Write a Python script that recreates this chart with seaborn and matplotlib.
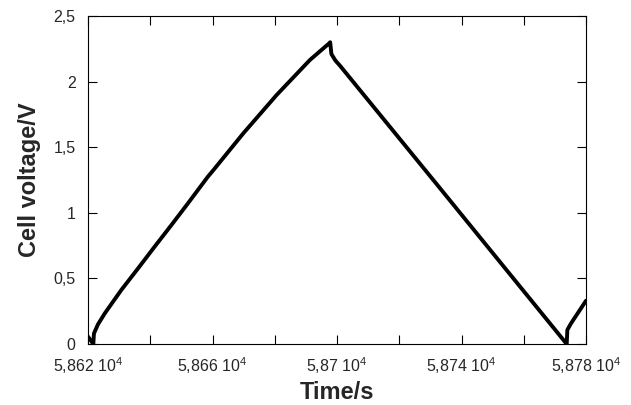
import matplotlib
matplotlib.use("Agg")
import matplotlib.pyplot as plt
from matplotlib.ticker import MultipleLocator
import pandas as pd
import seaborn as sns

# time (s) and cell voltage (V)
TIME = [58620.0, 58621.7, 58621.9, 58623.2, 58625.4, 58630.7, 58636.1,
        58641.4, 58646.8, 58652.1, 58658.5, 58660.3, 58669.9, 58680.6,
        58691.3, 58697.4, 58697.8, 58698.2, 58699.5, 58701.0, 58733.1,
        58773.8, 58774.0, 58775.0, 58775.9, 58780.0]
VOLT = [0.056, 0.0, 0.08, 0.15, 0.234, 0.412, 0.577,
        0.742, 0.907, 1.072, 1.275, 1.326, 1.606, 1.898,
        2.165, 2.29, 2.30, 2.21, 2.16, 2.12, 1.187,
        0.0, 0.107, 0.15, 0.183, 0.33]

X_TICKS = [58620, 58660, 58700, 58740, 58780]
X_LABELS = ["5,862", "5,866", "5,87", "5,874", "5,878"]
Y_TICKS = [0, 0.5, 1, 1.5, 2, 2.5]
Y_LABELS = ["0", "0,5", "1", "1,5", "2", "2,5"]

sns.set_style("ticks")
plt.rcParams["font.family"] = ["Liberation Sans", "DejaVu Sans"]
plt.rcParams["mathtext.fontset"] = "custom"
plt.rcParams["mathtext.rm"] = "Liberation Sans"

df = pd.DataFrame({"t": TIME, "v": VOLT})

fig = plt.figure(figsize=(6.31, 4.05), dpi=100)
ax = fig.add_axes([0.1395, 0.1506, 0.7892, 0.8099])
sns.lineplot(data=df, x="t", y="v", sort=False, estimator=None,
             color="black", lw=2.8, ax=ax)

ax.set_xlim(58620, 58780)
ax.set_ylim(0, 2.5)
ax.set_xticks(X_TICKS)
ax.set_xticklabels([f"{l} $\\mathregular{{10^4}}$" for l in X_LABELS])
ax.xaxis.set_minor_locator(MultipleLocator(20))
ax.set_yticks(Y_TICKS)
ax.set_yticklabels(Y_LABELS)

for s in ax.spines.values():
    s.set_visible(True)
    s.set_color("black")
    s.set_linewidth(0.8)
ax.tick_params(which="both", direction="in", top=True, right=True,
               length=6.5, width=0.8, color="black", labelsize=11.5)
ax.tick_params(axis="x", pad=8)
ax.tick_params(axis="y", pad=9)

ax.set_xlabel("Time/s", fontsize=17, fontweight="bold", labelpad=4)
ax.set_ylabel("Cell voltage/V", fontsize=17, fontweight="bold", labelpad=9)

fig.savefig("out.png", dpi=100)
